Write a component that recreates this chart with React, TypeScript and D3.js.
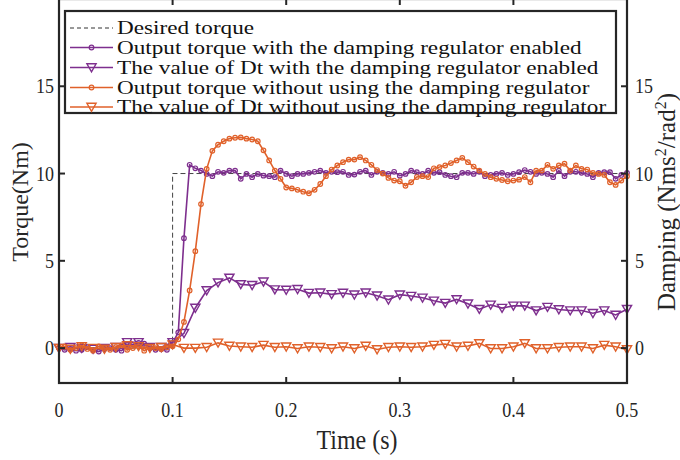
import React from 'react';
import * as d3 from 'd3';

// ---------- data ----------
const timeFine: number[] = d3.range(101).map(i => +(i * 0.005).toFixed(3));
const timeCoarse: number[] = d3.range(51).map(i => +(i * 0.01).toFixed(2));

const desiredTime = [0, 0.1, 0.1, 0.5];
const desiredTorque = [0, 0, 10, 10];

const torqueWithRegulator = [
  0, -0.1, -0.05, -0.15, -0.1, 0.05, -0.1, -0.2, -0.05, 0.0,
  -0.1, -0.15, 0.1, 0.2, 0.3, 0.25, 0.0, -0.1, -0.05, -0.1,
  0.3, 0.9, 6.3, 10.5, 10.3, 10.17, 9.98, 9.85, 10.1, 10.04,
  10.17, 10.17, 9.7, 9.98, 9.79, 9.98, 9.88, 9.85, 9.79, 10.17,
  9.98, 9.85, 9.98, 9.98, 10.04, 10.1, 10.17, 10.04, 10.1, 10.08,
  10.1, 9.92, 9.94, 10.1, 10.17, 9.92, 10.1, 10.04, 9.98, 10.1,
  9.88, 9.98, 10.17, 10.08, 9.98, 10.17, 10.04, 10.08, 9.92, 9.85,
  9.79, 10.04, 10.04, 9.98, 10.1, 9.85, 9.92, 9.98, 10.04, 9.92,
  9.98, 10.08, 10.2, 10.1, 9.98, 10.04, 9.98, 9.79, 10.17, 9.85,
  10.1, 10.1, 10.04, 9.98, 9.79, 10.04, 10.08, 10.08, 9.7, 9.92,
  10.04,
];

const dtWithRegulator = [
  0, 0.05, 0, -0.05, 0, 0.05, 0.33, 0.33, 0.05, 0.05,
  0.33, 0.85, 2.3, 3.3, 3.75, 4.02, 3.65, 3.6, 3.8, 3.35,
  3.33, 3.37, 3.15, 3.17, 3.08, 3.16, 3.06, 3.17, 3.0, 2.77,
  3.06, 2.98, 2.88, 2.71, 2.58, 2.79, 2.54, 2.23, 2.48, 2.29,
  2.42, 2.42, 2.15, 2.35, 2.21, 2.15, 2.15, 2.0, 2.15, 1.9,
  2.23,
];

const torqueWithoutRegulator = [
  0.05, 0.1, -0.1, 0.0, 0.15, -0.05, -0.15, 0.1, 0.0, -0.1,
  0.05, 0.15, -0.1, 0.0, 0.1, -0.15, 0.05, 0.0, -0.05, 0.05,
  0.1, 0.5, 1.5, 3.3, 5.55, 8.25, 10.27, 11.3, 11.65, 11.85,
  12.0, 12.05, 12.07, 12.0, 11.95, 11.85, 11.33, 10.75, 10.17, 9.7,
  9.2, 9.15, 9.07, 8.96, 8.87, 9.07, 9.4, 9.85, 10.23, 10.46,
  10.65, 10.8, 10.8, 10.94, 10.75, 10.5, 10.2, 10.0, 9.75, 9.6,
  9.56, 9.3, 9.5, 9.8, 9.85, 9.8, 10.3, 10.37, 10.46, 10.6,
  10.75, 10.9, 10.65, 10.4, 10.17, 9.98, 9.79, 9.7, 9.63, 9.56,
  9.6, 9.65, 9.8, 9.5, 10.17, 10.17, 10.5, 10.27, 10.46, 10.56,
  10.17, 10.46, 10.27, 10.23, 10.04, 9.98, 9.92, 9.5, 9.35, 9.6,
  9.85,
];

const dtWithoutRegulator = [
  0.0, -0.05, 0.1, 0.0, -0.05, 0.05, 0.15, 0.1, 0.0, 0.05,
  0.2, 0.0, 0.0, 0.05, 0.3, 0.12, 0.08, 0.05, 0.17, 0.05,
  0.08, -0.02, 0.08, 0.05, -0.02, 0.08, -0.02, 0.12, -0.08, 0.05,
  0.08, 0.05, 0.08, 0.17, 0.23, 0.08, 0.12, 0.27, -0.02, -0.02,
  0.08, 0.27, -0.02, -0.02, 0.05, 0.08, 0.08, -0.02, 0.17, 0.08,
  -0.08,
];

const xTicks = [0, 0.1, 0.2, 0.3, 0.4, 0.5];
const yTicks = [0, 5, 10, 15];

const legendLabels = [
  'Desired torque',
  'Output torque with the damping regulator enabled',
  'The value of Dt with the damping regulator enabled',
  'Output torque without using the damping regulator',
  'The value of Dt without using the damping regulator',
];

// ---------- style ----------
const PURPLE = '#7E2F8E';
const ORANGE = '#E0612A';
const FONT = '"Liberation Serif", "Times New Roman", serif';
const AXIS = '#262626';

type Pt = [number, number];

const triPath = 'M-4.6,-3.7L4.6,-3.7L0,4.3Z';

export default function App() {
  const W = 680, H = 460;
  const x = d3.scaleLinear().domain([0, 0.5]).range([59, 627]);
  const y = d3.scaleLinear().domain([-2, 20]).range([383, -1]);

  const line = d3.line<Pt>().x(d => x(d[0])).y(d => y(d[1]));

  const desired: Pt[] = desiredTime.map((t, i) => [t, desiredTorque[i]]);
  const pTorque: Pt[] = timeFine.map((t, i) => [t, torqueWithRegulator[i]]);
  const pDt: Pt[] = timeCoarse.map((t, i) => [t, dtWithRegulator[i]]);
  const oTorque: Pt[] = timeFine.map((t, i) => [t, torqueWithoutRegulator[i]]);
  const oDt: Pt[] = timeCoarse.map((t, i) => [t, dtWithoutRegulator[i]]);

  const [x0, x1] = x.range();
  const yb = y(-2), yt = y(20);

  const circles = (pts: Pt[], color: string) =>
    pts.map((d, i) => (
      <circle key={i} cx={x(d[0])} cy={y(d[1])} r={2.3} fill="none" stroke={color} strokeWidth={1.2} />
    ));
  const tris = (pts: Pt[], color: string) =>
    pts.map((d, i) => (
      <path key={i} d={triPath} transform={`translate(${x(d[0])},${y(d[1])})`} fill="none" stroke={color} strokeWidth={1.4} />
    ));

  const legRows = [28, 47.5, 67.5, 87.5, 107];
  const legendSample = (i: number) => {
    const yy = legRows[i];
    const lx0 = 70, lx1 = 113, mx = 91.5;
    if (i === 0) return <line x1={lx0} x2={lx1} y1={yy} y2={yy} stroke="#333" strokeWidth={1} strokeDasharray="4,3" />;
    const color = i <= 2 ? PURPLE : ORANGE;
    return (
      <g>
        <line x1={lx0} x2={lx1} y1={yy} y2={yy} stroke={color} strokeWidth={1.6} />
        {i % 2 === 1 ? (
          <circle cx={mx} cy={yy} r={2.3} fill="none" stroke={color} strokeWidth={1.2} />
        ) : (
          <path d={triPath} transform={`translate(${mx},${yy})`} fill="none" stroke={color} strokeWidth={1.4} />
        )}
      </g>
    );
  };

  const tickSY = 1.2;

  return (
    <svg width={W} height={H} style={{ position: 'absolute', left: 0, top: 0, background: '#fff' }} fontFamily={FONT}>
      <rect x={0} y={0} width={W} height={H} fill="#fff" />
      {/* series */}
      <path d={line(desired) || ''} fill="none" stroke="#444" strokeWidth={1} strokeDasharray="5,3" />
      <path d={line(pTorque) || ''} fill="none" stroke={PURPLE} strokeWidth={1.6} />
      {circles(pTorque, PURPLE)}
      <path d={line(pDt) || ''} fill="none" stroke={PURPLE} strokeWidth={1.6} />
      {tris(pDt, PURPLE)}
      <path d={line(oTorque) || ''} fill="none" stroke={ORANGE} strokeWidth={1.6} />
      {circles(oTorque, ORANGE)}
      <path d={line(oDt) || ''} fill="none" stroke={ORANGE} strokeWidth={1.6} />
      {tris(oDt, ORANGE)}

      {/* axes box */}
      <rect x={x0} y={yt} width={x1 - x0} height={yb - yt} fill="none" stroke={AXIS} strokeWidth={2.2} />
      {xTicks.slice(1, -1).map(t => (
        <g key={t}>
          <line x1={x(t)} x2={x(t)} y1={yb} y2={yb - 6} stroke={AXIS} strokeWidth={2} />
          <line x1={x(t)} x2={x(t)} y1={yt} y2={yt + 6} stroke={AXIS} strokeWidth={2} />
        </g>
      ))}
      {yTicks.map(t => (
        <g key={t}>
          <line x1={x0} x2={x0 + 6} y1={y(t)} y2={y(t)} stroke={AXIS} strokeWidth={2} />
          <line x1={x1} x2={x1 - 6} y1={y(t)} y2={y(t)} stroke={AXIS} strokeWidth={2} />
        </g>
      ))}
      {xTicks.map(t => (
        <text key={t} transform={`translate(${x(t)},417) scale(1,${tickSY})`} textAnchor="middle" fontSize={18} fill={AXIS}>{String(t)}</text>
      ))}
      {yTicks.map(t => (
        <text key={'l' + t} transform={`translate(${x0 - 5},${y(t) + 7}) scale(1,${tickSY})`} textAnchor="end" fontSize={18} fill={AXIS}>{String(t)}</text>
      ))}
      {yTicks.map(t => (
        <text key={'r' + t} transform={`translate(${x1 + 8},${y(t) + 7}) scale(1,${tickSY})`} textAnchor="start" fontSize={18} fill={AXIS}>{String(t)}</text>
      ))}
      <text transform={`translate(357,449) scale(1,1.15)`} textAnchor="middle" fontSize={24} fill={AXIS}>Time (s)</text>
      <text transform={`translate(28,202) rotate(-90)`} textAnchor="middle" fontSize={24} fill={AXIS}>Torque(Nm)</text>
      <text transform={`translate(675,202) rotate(-90)`} textAnchor="middle" fontSize={25} fill={AXIS}>
        Damping (Nms<tspan dy={-9} fontSize={16}>2</tspan><tspan dy={9}>/rad</tspan><tspan dy={-9} fontSize={16}>2</tspan><tspan dy={9}>)</tspan>
      </text>

      {/* legend */}
      <rect x={65} y={11} width={551} height={102} fill="#fff" stroke={AXIS} strokeWidth={2.2} />
      {legendLabels.map((lab, i) => (
        <g key={i}>
          {legendSample(i)}
          <text transform={`translate(117,${legRows[i] + 6}) scale(1.22,1)`} fontSize={19} fill="#111">{lab}</text>
        </g>
      ))}
    </svg>
  );
}
